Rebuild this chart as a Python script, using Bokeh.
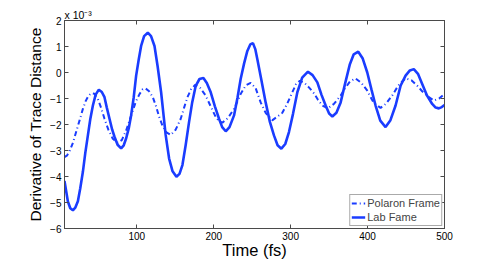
from bokeh.plotting import figure
from bokeh.models import (LinearAxis, FixedTicker, Legend, LegendItem, Title,
                          Range1d, CustomJSTickFormatter)
from bokeh.embed import file_html
from bokeh.resources import INLINE

# ---- data (values in units of 1e-3) ----
lab_t = [6, 10.4, 13.5, 16.9, 20, 23.4, 26.5, 29.9, 33, 36.4, 39.5, 42.9, 46.5, 50.6,
         54.5, 58, 61, 64.5, 68, 71, 75, 79.6, 83, 86.1, 89.5, 92.6, 96, 99.1, 102.5,
         105.6, 109.5, 114.3, 118.5, 123, 127, 131.6, 137.5, 142, 146.5, 151.5, 155.5,
         159.3, 163.5, 167.9, 172, 176.6, 181.5, 186.6, 191, 196.1, 201.5, 206.9, 211,
         215.6, 220.5, 226.4, 231, 235, 239.5, 243.7, 247.5, 251, 254, 256.7, 262, 267.5,
         273, 278.3, 283, 287.9, 293, 297.8, 303, 308.7, 315, 322.5, 328.5, 334.7, 340,
         345.5, 350, 354.2, 359.5, 365, 371, 377, 382, 387.9, 393.5, 399.6, 405, 410.4,
         416.5, 423.4, 429.5, 436.4, 443, 449.4, 455, 460.1, 465.5, 471, 477.5, 484,
         488.5, 492.6, 496.5, 500]
lab_v = [-4.17, -4.96, -5.22, -5.30, -5.20, -4.95, -4.45, -3.82, -3.10, -2.42, -1.80,
         -1.27, -0.85, -0.66, -0.75, -0.95, -1.35, -1.78, -2.20, -2.47, -2.78, -2.92,
         -2.80, -2.54, -2.15, -1.65, -0.95, -0.13, 0.50, 1.02, 1.40, 1.53, 1.40, 1.02,
         0.25, -0.76, -2.40, -3.31, -3.80, -4.01, -3.90, -3.56, -2.80, -1.91, -1.15,
         -0.51, -0.25, -0.21, -0.40, -0.76, -1.30, -1.78, -2.10, -2.26, -2.10, -1.65,
         -0.95, -0.25, 0.35, 0.83, 1.08, 1.13, 0.90, 0.51, -0.30, -1.15, -1.90, -2.42,
         -2.80, -2.93, -2.75, -2.29, -1.60, -0.76, -0.20, 0.03, -0.10, -0.38, -0.85,
         -1.27, -1.58, -1.69, -1.55, -1.15, -0.40, 0.32, 0.70, 0.80, 0.55, 0.00, -0.65,
         -1.27, -1.85, -2.10, -1.85, -1.27, -0.50, -0.12, 0.08, 0.13, -0.05, -0.44,
         -0.90, -1.21, -1.35, -1.38, -1.33, -1.25]

pol_t = [6, 9.1, 13, 17, 21.2, 25.5, 29.9, 33.5, 37, 40.7, 45, 49.4, 53.5, 58, 63, 68.8,
         75.3, 80.5, 86.1, 90.5, 94.8, 99, 103.5, 107.5, 111.3, 116, 120.8, 125, 129,
         133.4, 138.5, 144.2, 150.5, 157.1, 161.5, 165.8, 170.5, 175.7, 182.5, 189.6,
         196, 202.6, 207, 211.3, 218.5, 226.4, 231, 235, 241.5, 248, 254.5, 261, 267.5,
         276, 282.5, 289.2, 295.5, 302.2, 307, 312, 318, 324, 330.3, 335.5, 341.2, 348.5,
         356.5, 365, 371, 377, 384.4, 392, 399.6, 404, 408.2, 416.9, 424, 432.1, 440,
         449.4, 457, 464.6, 471, 477.5, 486.1, 493, 500]
pol_v = [-3.25, -3.20, -3.00, -2.70, -2.28, -1.85, -1.40, -1.10, -0.90, -0.80, -0.82,
         -1.02, -1.35, -1.78, -2.20, -2.55, -2.70, -2.60, -2.23, -1.85, -1.46, -1.10,
         -0.83, -0.65, -0.61, -0.72, -0.95, -1.30, -1.70, -2.05, -2.30, -2.40, -2.20,
         -1.78, -1.35, -0.95, -0.65, -0.48, -0.60, -0.89, -1.30, -1.71, -1.88, -1.93,
         -1.75, -1.40, -1.10, -0.83, -0.50, -0.40, -0.60, -1.15, -1.55, -1.84, -1.70,
         -1.55, -1.20, -0.76, -0.45, -0.32, -0.40, -0.58, -0.80, -1.05, -1.27, -1.38,
         -1.20, -0.89, -0.60, -0.35, -0.23, -0.40, -0.70, -0.95, -1.18, -1.36, -1.20,
         -0.88, -0.50, -0.22, -0.30, -0.51, -0.72, -0.90, -1.08, -1.00, -0.82]

x_ticks = [100, 200, 300, 400, 500]
y_ticks = [-6, -5, -4, -3, -2, -1, 0, 1, 2]
y_tick_labels = ["\u22126", "\u22125", "\u22124", "\u22123", "\u22122", "\u22121", "0", "1", "2"]
series_names = ["Polaron Frame", "Lab Fame"]
x_title = "Time (fs)"
y_title = "Derivative of Trace Distance"
multiplier = "x 10\u207b\u00b3"

FONT = "Liberation Sans"
BLUE = "#1a3cff"
AXC = "#4a4a4a"

W, H = 491, 261
p = figure(width=W, height=H, output_backend="svg", toolbar_location=None,
           x_range=Range1d(6, 500), y_range=Range1d(-6, 2),
           min_border_left=64, min_border_right=W - 444, min_border_top=20,
           min_border_bottom=H - 229,
           x_axis_location="below", y_axis_location="left")
p.grid.visible = False
p.outline_line_color = AXC
p.outline_line_width = 1
p.background_fill_color = "white"
p.border_fill_color = "white"

def style_axis(ax, show_labels):
    ax.axis_line_color = AXC
    ax.major_tick_line_color = AXC
    ax.major_tick_in = 4
    ax.major_tick_out = 0
    ax.minor_tick_line_color = None
    ax.major_label_text_font = FONT
    ax.major_label_text_color = "black"
    ax.major_label_text_font_size = "10px" if show_labels else "0px"
    ax.major_label_standoff = 4 if show_labels else 0
    ax.axis_label_text_font = FONT
    ax.axis_label_text_color = "black"
    ax.axis_label_text_font_style = "normal"

xa = p.xaxis[0]
style_axis(xa, True)
xa.ticker = FixedTicker(ticks=x_ticks)
xa.major_label_standoff = 3
xa.axis_label = x_title
xa.axis_label_text_font_size = "16.5px"
xa.axis_label_standoff = -2

ya = p.yaxis[0]
style_axis(ya, True)
ya.ticker = FixedTicker(ticks=y_ticks)
ya.major_label_overrides = {t: s for t, s in zip(y_ticks, y_tick_labels)}
ya.major_label_standoff = 3
ya.axis_label = y_title
ya.axis_label_text_font_size = "15.5px"
ya.axis_label_standoff = 3

top = LinearAxis(ticker=FixedTicker(ticks=x_ticks),
                 formatter=CustomJSTickFormatter(code="return ''"))
style_axis(top, False)
right = LinearAxis(ticker=FixedTicker(ticks=y_ticks),
                   formatter=CustomJSTickFormatter(code="return ''"))
style_axis(right, False)
p.add_layout(top, "above")
p.add_layout(right, "right")

mult = Title(text=multiplier, align="left", text_font=FONT, text_font_size="10.5px",
             text_font_style="normal", text_color="black", standoff=0)
p.add_layout(mult, "above")

r_pol = p.line(pol_t, pol_v, line_color=BLUE, line_width=2, line_dash="5 3 1 3")
r_lab = p.line(lab_t, lab_v, line_color=BLUE, line_width=2.6)

legend = Legend(items=[LegendItem(label=series_names[0], renderers=[r_pol]),
                       LegendItem(label=series_names[1], renderers=[r_lab])],
                location="bottom_right")
legend.label_text_font = FONT
legend.label_text_font_size = "11px"
legend.border_line_color = "#555555"
legend.border_line_width = 1
legend.background_fill_color = "white"
legend.background_fill_alpha = 1
legend.padding = 1
legend.margin = 2
legend.spacing = 0
legend.label_standoff = 2
legend.glyph_width = 14
legend.glyph_height = 14
legend.label_height = 14
p.add_layout(legend, "center")

open("out.html", "w").write(file_html(p, INLINE))
